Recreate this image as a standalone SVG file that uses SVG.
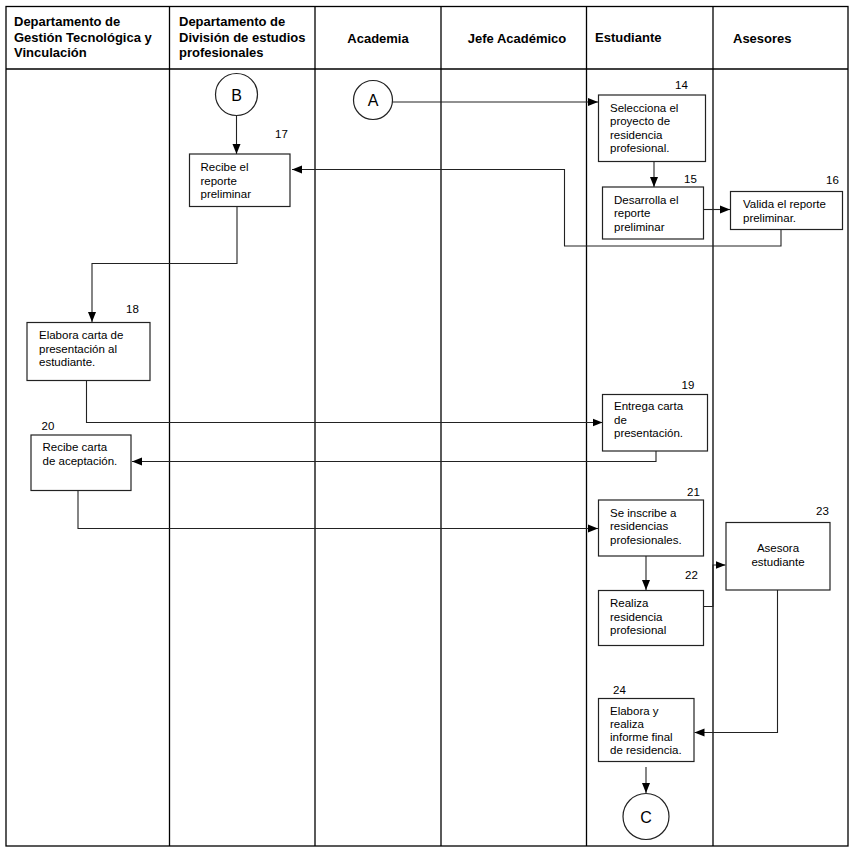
<svg xmlns="http://www.w3.org/2000/svg" width="857" height="854" viewBox="0 0 857 854">
<defs>
<style>
.frame{fill:none;stroke:#000;stroke-width:1.3}
.hd{font-family:"Liberation Sans",Arial,sans-serif;font-weight:bold;font-size:13px;fill:#000}
.box{fill:#fff;stroke:#222;stroke-width:1.2}
.t{font-family:"Liberation Sans",Arial,sans-serif;font-size:11.5px;fill:#000}
.n{font-family:"Liberation Sans",Arial,sans-serif;font-size:11.5px;fill:#000}
.c{font-family:"Liberation Sans",Arial,sans-serif;font-size:16px;fill:#000;text-anchor:middle}
.conn path{fill:none;stroke:#222;stroke-width:1.1}
.circ{fill:#fff;stroke:#222;stroke-width:1.2}
</style>
<marker id="ah" markerUnits="userSpaceOnUse" markerWidth="10" markerHeight="10" viewBox="0 0 10 10" refX="10" refY="5" orient="auto">
<path d="M0,1 L10,5 L0,9 Z" fill="#000"/>
</marker>
</defs>
<rect width="857" height="854" fill="#fff"/>
<g id="lanes">
<rect class="frame" x="6" y="6.5" width="842" height="839.5"/>
<line class="frame" x1="6" y1="69" x2="848" y2="69"/>
<line class="frame" x1="169.5" y1="6.5" x2="169.5" y2="846"/>
<line class="frame" x1="315" y1="6.5" x2="315" y2="846"/>
<line class="frame" x1="441" y1="6.5" x2="441" y2="846"/>
<line class="frame" x1="586.5" y1="6.5" x2="586.5" y2="846"/>
<line class="frame" x1="713" y1="6.5" x2="713" y2="846"/>
<text class="hd" x="14" y="26">Departamento de</text>
<text class="hd" x="14" y="41.5">Gestión Tecnológica y</text>
<text class="hd" x="14" y="57">Vinculación</text>
<text class="hd" x="179" y="26">Departamento de</text>
<text class="hd" x="179" y="41.5">División de estudios</text>
<text class="hd" x="179" y="57">profesionales</text>
<text class="hd" x="378" y="43" text-anchor="middle">Academia</text>
<text class="hd" x="517" y="43" text-anchor="middle">Jefe Académico</text>
<text class="hd" x="595" y="41.5">Estudiante</text>
<text class="hd" x="733" y="43">Asesores</text>
</g>
<g class="conn" id="connectors">
<path d="M236.5,115 V154" marker-end="url(#ah)"/>
<path d="M392,102 H598" marker-end="url(#ah)"/>
<path d="M654,162 V187" marker-end="url(#ah)"/>
<path d="M703.5,209.5 H730" marker-end="url(#ah)"/>
<path d="M781,229.5 V246 H564.5 V169.5 H292" marker-end="url(#ah)"/>
<path d="M237,206.5 V263.5 H92 V322" marker-end="url(#ah)"/>
<path d="M86.5,381 V422.5 H602.5" marker-end="url(#ah)"/>
<path d="M656,451 V461.5 H132" marker-end="url(#ah)"/>
<path d="M78,491 V528.5 H598" marker-end="url(#ah)"/>
<path d="M646,556 V590" marker-end="url(#ah)"/>
<path d="M703.5,606.5 H713 V565 H725.5" marker-end="url(#ah)"/>
<path d="M777.5,590 V732.5 H694.5" marker-end="url(#ah)"/>
<path d="M646,767 V793" marker-end="url(#ah)"/>
</g>
<g id="nodeB">
<circle class="circ" cx="236.5" cy="94.5" r="21"/>
<text class="c" x="236.5" y="100.5">B</text>
</g>
<g id="nodeA">
<circle class="circ" cx="373" cy="100" r="19.5"/>
<text class="c" x="373" y="106">A</text>
</g>
<g id="node14">
<rect class="box" x="598.5" y="95" width="107" height="66.5"/>
<text class="t" x="610" y="111.5">Selecciona el</text>
<text class="t" x="610" y="125">proyecto de</text>
<text class="t" x="610" y="138.5">residencia</text>
<text class="t" x="610" y="152">profesional.</text>
<text class="n" x="675" y="89">14</text>
</g>
<g id="node15">
<rect class="box" x="602.5" y="187" width="101" height="52"/>
<text class="t" x="614" y="203.5">Desarrolla el</text>
<text class="t" x="614" y="217">reporte</text>
<text class="t" x="614" y="230.5">preliminar</text>
<text class="n" x="684" y="183">15</text>
</g>
<g id="node16">
<rect class="box" x="730.5" y="191.5" width="112" height="38"/>
<text class="t" x="743" y="207.5">Valida el reporte</text>
<text class="t" x="743" y="221.5">preliminar.</text>
<text class="n" x="826" y="183.5">16</text>
</g>
<g id="node17">
<rect class="box" x="189.5" y="154" width="100.5" height="52.5"/>
<text class="t" x="200.5" y="171">Recibe el</text>
<text class="t" x="200.5" y="184.5">reporte</text>
<text class="t" x="200.5" y="198">preliminar</text>
<text class="n" x="275" y="138">17</text>
</g>
<g id="node18">
<rect class="box" x="27" y="322.5" width="123" height="58"/>
<text class="t" x="39" y="339">Elabora carta de</text>
<text class="t" x="39" y="352.5">presentación al</text>
<text class="t" x="39" y="366">estudiante.</text>
<text class="n" x="126" y="312.5">18</text>
</g>
<g id="node19">
<rect class="box" x="602.5" y="394.5" width="105" height="56.5"/>
<text class="t" x="614" y="410">Entrega carta</text>
<text class="t" x="614" y="423.5">de</text>
<text class="t" x="614" y="437">presentación.</text>
<text class="n" x="681.5" y="388.5">19</text>
</g>
<g id="node20">
<rect class="box" x="31" y="435" width="100" height="55.5"/>
<text class="t" x="42.5" y="451">Recibe carta</text>
<text class="t" x="42.5" y="464.5">de aceptación.</text>
<text class="n" x="41.5" y="429.5">20</text>
</g>
<g id="node21">
<rect class="box" x="598.5" y="500" width="105" height="56"/>
<text class="t" x="610" y="516.5">Se inscribe a</text>
<text class="t" x="610" y="530">residencias</text>
<text class="t" x="610" y="543.5">profesionales.</text>
<text class="n" x="687" y="496">21</text>
</g>
<g id="node22">
<rect class="box" x="598.5" y="590.5" width="105" height="55"/>
<text class="t" x="610" y="607">Realiza</text>
<text class="t" x="610" y="620.5">residencia</text>
<text class="t" x="610" y="634">profesional</text>
<text class="n" x="685" y="578.5">22</text>
</g>
<g id="node23">
<rect class="box" x="726" y="522.5" width="104" height="67.5"/>
<text class="t" x="778" y="552" text-anchor="middle">Asesora</text>
<text class="t" x="778" y="565.5" text-anchor="middle">estudiante</text>
<text class="n" x="816" y="515">23</text>
</g>
<g id="node24">
<rect class="box" x="598.5" y="698.5" width="95.5" height="63"/>
<text class="t" x="610" y="715">Elabora y</text>
<text class="t" x="610" y="728">realiza</text>
<text class="t" x="610" y="741">informe final</text>
<text class="t" x="610" y="754">de residencia.</text>
<text class="n" x="613" y="693.5">24</text>
</g>
<g id="nodeC">
<circle class="circ" cx="646" cy="816.5" r="23"/>
<text class="c" x="646" y="822.5">C</text>
</g>
</svg>
